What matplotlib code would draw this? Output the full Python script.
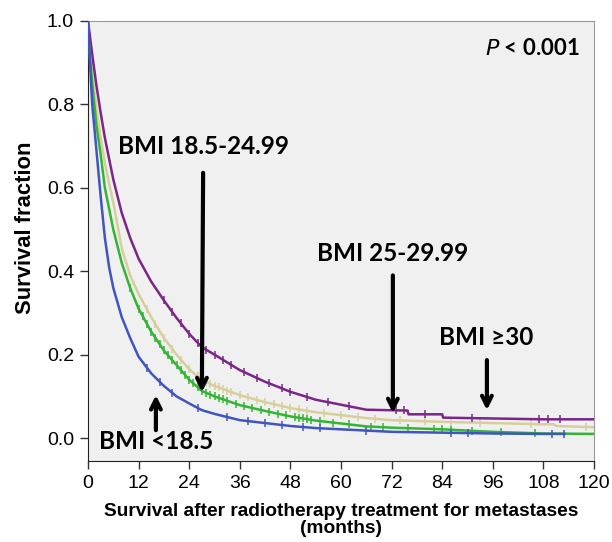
import numpy as np
import matplotlib
matplotlib.use("Agg")
import matplotlib.pyplot as plt

# survival curves (months, survival fraction)
t_lt185 = [0, 0.3, 1, 2, 3, 4, 5, 6, 8, 10, 12, 15, 18, 21, 24, 27, 30, 36, 42, 48, 54, 60, 66, 72, 84, 96, 108, 113]
s_lt185 = [1.0, 0.93, 0.80, 0.69, 0.58, 0.48, 0.41, 0.36, 0.29, 0.24, 0.195, 0.155, 0.125, 0.10, 0.083, 0.067, 0.058,
           0.043, 0.036, 0.029, 0.024, 0.021, 0.018, 0.015, 0.013, 0.011, 0.010, 0.010]

t_normal = [0, 0.2, 1, 2, 3, 4, 5, 6, 8, 10, 12, 15, 18, 21, 24, 27, 30, 36, 42, 48, 54, 60, 66, 72, 84, 96, 108, 120]
s_normal = [1.0, 0.95, 0.85, 0.75, 0.68, 0.60, 0.55, 0.50, 0.42, 0.36, 0.31, 0.255, 0.21, 0.175, 0.14, 0.113, 0.10,
            0.079, 0.065, 0.052, 0.042, 0.035, 0.028, 0.025, 0.021, 0.015, 0.011, 0.010]

t_over = [0, 1, 2, 3, 4, 5, 6, 8, 10, 12, 15, 18, 21, 24, 27, 30, 36, 42, 48, 54, 60, 66, 72, 84, 96, 108, 110.5, 111, 120]
s_over = [1.0, 0.88, 0.79, 0.72, 0.66, 0.61, 0.565, 0.455, 0.39, 0.345, 0.29, 0.24, 0.20, 0.165, 0.139, 0.125, 0.103,
          0.086, 0.072, 0.062, 0.055, 0.048, 0.043, 0.039, 0.036, 0.033, 0.033, 0.029, 0.026]

t_obese = [0, 1, 2, 3, 4, 5, 6, 8, 10, 12, 15, 18, 21, 24, 27, 30, 36, 42, 48, 54, 60, 66, 75.8, 76, 84, 84.2, 96, 108, 120]
s_obese = [1.0, 0.92, 0.845, 0.78, 0.72, 0.67, 0.62, 0.54, 0.48, 0.43, 0.375, 0.33, 0.288, 0.25, 0.218, 0.20, 0.163,
           0.135, 0.111, 0.092, 0.08, 0.068, 0.066, 0.057, 0.057, 0.049, 0.047, 0.045, 0.045]

# censored observations
c_lt185 = [14, 17, 20, 26, 33, 38, 42, 46, 51, 55, 66, 86, 90, 110, 113]
c_normal = [10, 12, 13, 14, 15, 16, 17, 18, 19, 20, 21, 22, 23, 24, 25, 26, 27, 28, 29, 30, 31, 32, 33, 35, 37, 39, 41,
            43, 45, 47, 49, 50, 51, 52, 53, 55, 58, 62, 67, 70, 76, 82, 84, 86, 91, 98, 106]
c_over = [14, 16, 18, 20, 22, 24, 26, 28, 29, 30, 31, 32, 33, 34, 36, 38, 40, 42, 44, 46, 48, 50, 52, 56, 60, 64, 68,
          74, 80, 86, 93, 105, 118]
c_obese = [18, 20, 22, 24, 26, 28, 30, 32, 34, 37, 40, 43, 46, 48, 52, 57, 62, 73, 75, 80, 91, 107, 109, 112]

groups = [
    (t_over, s_over, c_over, "#d6cf9c"),
    (t_obese, s_obese, c_obese, "#7a2688"),
    (t_normal, s_normal, c_normal, "#34b434"),
    (t_lt185, s_lt185, c_lt185, "#3f55c0"),
]

fig = plt.figure(figsize=(6.12, 5.42), dpi=100)
ax = fig.add_axes([0.1438, 0.1494, 0.8268, 0.8119])
ax.set_facecolor("#f0f0f0")

for t, s, c, col in groups:
    ax.plot(t, s, color=col, lw=1.8, zorder=3)
    ax.plot(c, np.interp(c, t, s), ls="none", marker="|", ms=6, mew=1.1, color=col, zorder=3)

ax.set_xlim(0, 120)
ax.set_ylim(-0.055, 1.0)
ax.set_xticks(np.arange(0, 121, 12))
ax.set_yticks([0.0, 0.2, 0.4, 0.6, 0.8, 1.0])
ax.set_yticklabels(["0.0", "0.2", "0.4", "0.6", "0.8", "1.0"])

tick_font = ["Liberation Sans", "DejaVu Sans"]
for lab in ax.get_xticklabels() + ax.get_yticklabels():
    lab.set_family(tick_font)
    lab.set_fontsize(14)
ax.tick_params(axis="both", direction="out", length=6, width=1, color="#333333", pad=4)

for side in ["top", "right"]:
    ax.spines[side].set_color("#999999")
for side in ["left", "bottom"]:
    ax.spines[side].set_color("#222222")

lab_font = ["Liberation Sans", "DejaVu Sans"]
ax.set_ylabel("Survival fraction", family=lab_font, fontweight="bold", fontsize=15.8, labelpad=8)
ax.yaxis.label.set_y(0.53)
ax.set_xlabel("Survival after radiotherapy treatment for metastases\n(months)", family=lab_font,
              fontweight="bold", fontsize=13.8, labelpad=8, linespacing=1.0)

ann_font = ["Lato", "DejaVu Sans"]
arrow = dict(arrowstyle="->,head_length=0.7,head_width=0.35", color="black", lw=3, shrinkA=0, shrinkB=0)

ax.annotate("", xy=(27.0, 0.11), xytext=(27.3, 0.636), arrowprops=arrow, zorder=5)
ax.text(27.3, 0.70, "BMI 18.5-24.99", ha="center", va="center", family=ann_font, fontweight="bold", fontsize=17.5)

ax.annotate("", xy=(72.3, 0.06), xytext=(72.3, 0.39), arrowprops=arrow, zorder=5)
ax.text(72.3, 0.442, "BMI 25-29.99", ha="center", va="center", family=ann_font, fontweight="bold", fontsize=17.5)

ax.annotate("", xy=(94.6, 0.067), xytext=(94.6, 0.187), arrowprops=arrow, zorder=5)
ax.text(94.4, 0.242, "BMI ≥30", ha="center", va="center", family=ann_font, fontweight="bold", fontsize=17.5)

ax.annotate("", xy=(16.1, 0.103), xytext=(16.1, 0.019), arrowprops=arrow, zorder=5)
ax.text(2.6, -0.008, "BMI <18.5", ha="left", va="center", family=ann_font, fontweight="bold", fontsize=17.5)

ax.text(116.7, 0.933, r"$\bf\it{P}$ < 0.001", ha="right", va="center", family=ann_font, fontweight="bold", fontsize=16)

fig.savefig("out.png", dpi=100)
